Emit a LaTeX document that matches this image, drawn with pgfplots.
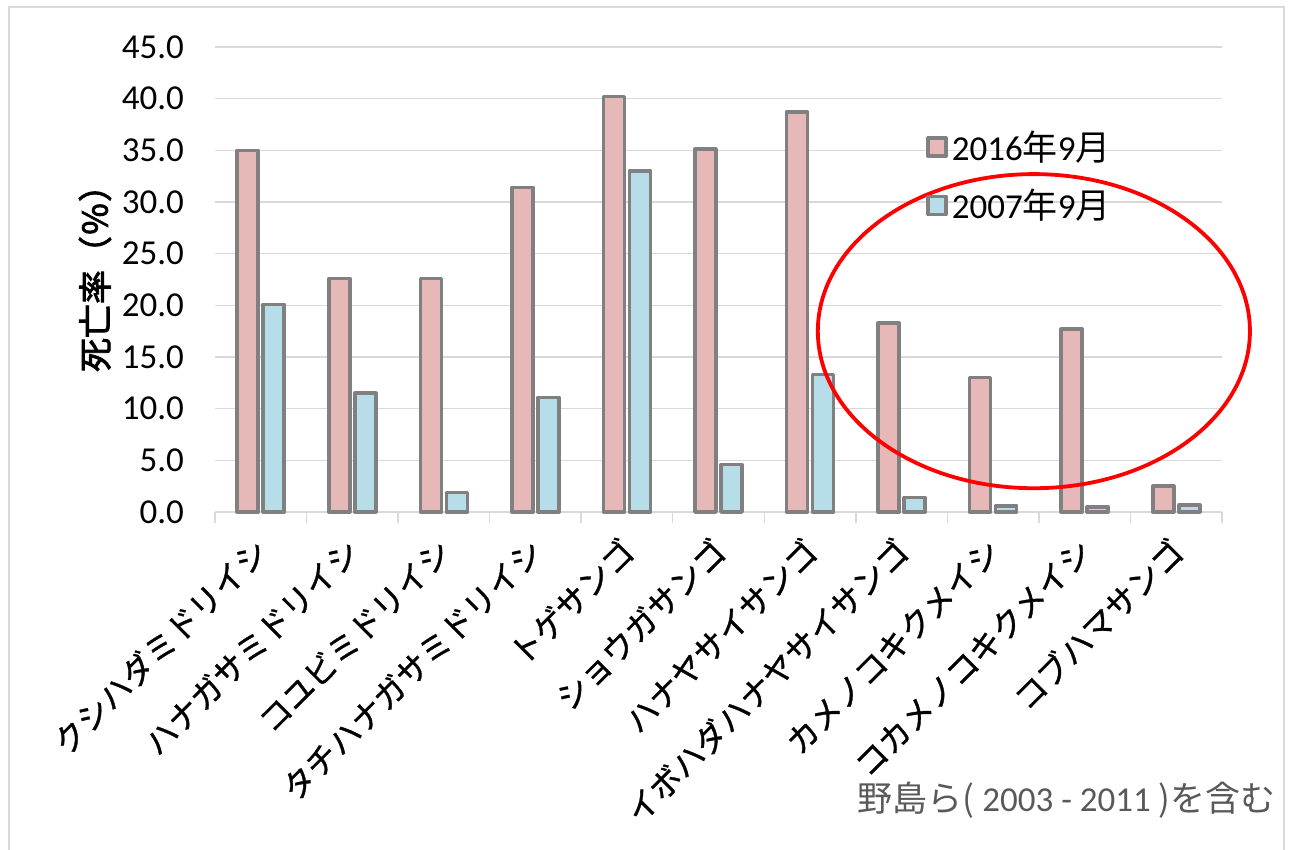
\documentclass[border=0pt]{standalone}
\usepackage{fontspec}
\setmainfont{Carlito}
\newfontfamily\jp{Noto Sans CJK JP}
\newfontfamily\jpm{Noto Sans CJK JP}[FakeBold=1]
\newfontfamily\jpb{Noto Sans CJK JP}[FakeBold=2.5]
\usepackage{pgfplots}
\pgfplotsset{compat=1.18}
\definecolor{pinkf}{HTML}{E6B9B8}
\definecolor{bluef}{HTML}{B7DEE8}
\definecolor{bord}{HTML}{808080}
\definecolor{gridc}{HTML}{D9D9D9}
\definecolor{srcc}{HTML}{595959}
\pgfplotsset{sqlegend/.style={legend image code/.code={\draw[##1] (0pt,-4.5pt) rectangle (9pt,4.5pt);}}}
\begin{document}
\begin{tikzpicture}
\useasboundingbox (-107.5pt,-169pt) rectangle (539.5pt,256pt);
\draw[gridc, line width=0.75pt] (-103pt,-180pt) -- (-103pt,252.5pt) -- (534.5pt,252.5pt) -- (534.5pt,-180pt);
\begin{axis}[
  at={(0,0)}, anchor=south west,
  scale only axis, width=503.5pt, height=232.5pt,
  xmin=-0.5, xmax=10.5, ymin=0, ymax=45,
  ybar=2.5pt, bar width=10.5pt,
  clip=false,
  axis x line=bottom, axis y line=left, axis line style={-},
  x axis line style={draw=gridc, line width=0.75pt},
  y axis line style={draw=none},
  xtick={0,...,10},
  xticklabels={クシハダミドリイシ,ハナガサミドリイシ,コユビミドリイシ,タチハナガサミドリイシ,トゲサンゴ,ショウガサンゴ,ハナヤサイサンゴ,イボハダハナヤサイサンゴ,カメノコキクメイシ,コカメノコキクメイシ,コブハマサンゴ},
  minor xtick={-0.5,0.5,...,10.5},
  tick align=outside,
  major x tick style={draw=none}, ytick style={draw=none},
  minor x tick style={draw=gridc, line width=0.75pt},
  minor tick length=5.5pt, major tick length=0pt,
  ymajorgrids, major grid style={draw=gridc, line width=0.75pt},
  ytick={0,5,...,45},
  /pgf/number format/fixed, /pgf/number format/fixed zerofill,
  /pgf/number format/precision=1, /pgf/number format/assume math mode=true,
  yticklabel style={font=\fontsize{17.5}{20}\selectfont, xshift=-12pt},
  xticklabel style={font=\jpm\fontsize{16}{18}\selectfont, xshift=3pt, yshift=-14pt, rotate=45, anchor=east},
  legend style={at={(axis description cs:0.70,0.838)}, anchor=north west, draw=none, fill=none,
    font=\fontsize{17.5}{20}\selectfont, row sep=9pt},
  legend cell align=left,
]
\addplot[fill=pinkf, draw=bord, line width=1.8pt, line join=round, sqlegend] coordinates {
 (0,35.0) (1,22.6) (2,22.6) (3,31.4) (4,40.2) (5,35.1) (6,38.7) (7,18.3) (8,13.0) (9,17.7) (10,2.5)};
\addlegendentry{2016{\jp 年}9{\jp 月}}
\addplot[fill=bluef, draw=bord, line width=1.8pt, line join=round, sqlegend] coordinates {
 (0,20.1) (1,11.5) (2,1.9) (3,11.1) (4,33.0) (5,4.6) (6,13.3) (7,1.4) (8,0.6) (9,0.5) (10,0.7)};
\addlegendentry{2007{\jp 年}9{\jp 月}}
\draw[red, line width=1.9pt] (axis cs:8.445,17.5) ellipse [x radius=2.36, y radius=15.2];
\end{axis}
\node[rotate=90, anchor=center, inner sep=0pt, font=\jpb\fontsize{17}{20}\selectfont] at (-60pt,121pt) {死亡率（％）};
\node[anchor=east, text=srcc, font=\fontsize{17.5}{19}\selectfont, inner sep=0pt] at (530.5pt,-144pt) {{\jp 野島ら(} 2003 - 2011 {\jp )を含む}};
\end{tikzpicture}
\end{document}
